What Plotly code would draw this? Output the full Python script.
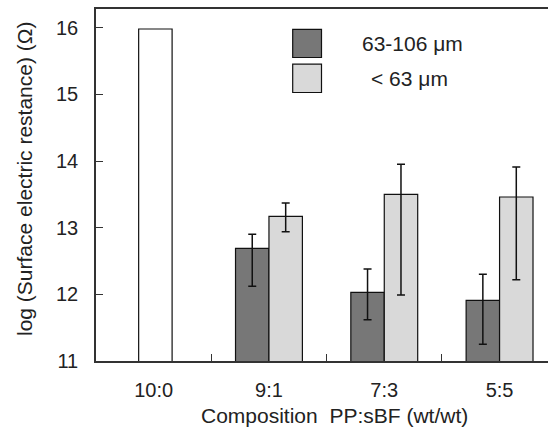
import plotly.graph_objects as go

# ---------------- data ----------------
categories = ["10:0", "9:1", "7:3", "5:5"]
series_names = ["63-106 μm", "< 63 μm"]

pure_pp_cat = ["10:0"]
pure_pp_val = [15.98]

sub_cats = ["9:1", "7:3", "5:5"]
coarse_val = [12.69, 12.03, 11.91]      # 63-106 um
coarse_err_plus = [0.21, 0.35, 0.39]
coarse_err_minus = [0.57, 0.41, 0.66]

fine_val = [13.17, 13.50, 13.46]        # < 63 um
fine_err_plus = [0.20, 0.45, 0.45]
fine_err_minus = [0.23, 1.51, 1.24]

y_ticks = [11, 12, 13, 14, 15, 16]

# ---------------- style ----------------
W, H = 548, 432
ML, MR, MT, MB = 96, 0, 9, 71
DARK = "#777777"
LIGHT = "#d9d9d9"
FONT = "Liberation Sans, Arial, sans-serif"
TXT = "#222222"
BW = 0.29

err_style = dict(type="data", symmetric=False, color="#111111", thickness=1.5, width=4)

fig = go.Figure()
fig.add_trace(go.Bar(
    x=pure_pp_cat, y=pure_pp_val, width=BW, offset=-0.13,
    marker=dict(color="white", line=dict(color="#111111", width=1.2)),
    showlegend=False,
))
fig.add_trace(go.Bar(
    x=sub_cats, y=coarse_val, width=BW, offset=-BW, name=series_names[0],
    marker=dict(color=DARK, line=dict(color="#111111", width=1.2)),
    error_y=dict(array=coarse_err_plus, arrayminus=coarse_err_minus, **err_style),
    showlegend=False,
))
fig.add_trace(go.Bar(
    x=sub_cats, y=fine_val, width=BW, offset=0, name=series_names[1],
    marker=dict(color=LIGHT, line=dict(color="#111111", width=1.2)),
    error_y=dict(array=fine_err_plus, arrayminus=fine_err_minus, **err_style),
    showlegend=False,
))

pw = W - ML - MR
ph = H - MT - MB
def px(x):
    return (x - ML) / pw
def py(y):
    return (H - MB - y) / ph

# custom legend (squares + labels)
shapes = []
annotations = []
leg_boxes = [(29.3, 57.5), (64.2, 92.5)]
leg_cols = [DARK, LIGHT]
leg_text_x = [360, 369]
for (y0, y1), col, name, tx in zip(leg_boxes, leg_cols, series_names, leg_text_x):
    shapes.append(dict(type="rect", xref="paper", yref="paper",
                       x0=px(292.7), x1=px(321.5), y0=py(y1), y1=py(y0),
                       fillcolor=col, line=dict(color="#111111", width=1.2)))
    annotations.append(dict(xref="paper", yref="paper", x=px(tx), y=py((y0 + y1) / 2),
                            xanchor="left", yanchor="middle", showarrow=False,
                            text=name, font=dict(size=21, color=TXT, family=FONT)))

# axis titles
annotations.append(dict(xref="paper", yref="paper", x=px(334), y=py(415),
                        xanchor="center", yanchor="middle", showarrow=False,
                        text="Composition  PP:sBF (wt/wt)",
                        font=dict(size=21, color=TXT, family=FONT)))
annotations.append(dict(xref="paper", yref="paper", x=px(24), y=py(179),
                        xanchor="center", yanchor="middle", showarrow=False, textangle=-90,
                        text="log (Surface electric restance) (Ω)",
                        font=dict(size=21, color=TXT, family=FONT)))

fig.update_layout(
    width=W, height=H,
    margin=dict(l=ML, r=MR, t=MT, b=MB),
    paper_bgcolor="white", plot_bgcolor="white",
    barmode="overlay",
    font=dict(family=FONT, size=19, color=TXT),
    shapes=shapes, annotations=annotations,
    showlegend=False,
)
fig.update_xaxes(
    type="category", categoryorder="array", categoryarray=categories,
    range=[-0.5, 3.42], showline=True, linecolor="#333333", linewidth=1.5,
    mirror=True, ticks="inside", ticklen=7, tickwidth=1.2, tickcolor="#333333",
    tickson="boundaries", showgrid=False, zeroline=False,
    ticklabelstandoff=10, tickfont=dict(size=20, color=TXT, family=FONT),
)
fig.update_yaxes(
    range=[11, 16.28], tickvals=y_ticks, showline=True, linecolor="#333333",
    linewidth=1.5, ticks="inside", ticklen=7, tickwidth=1.2, tickcolor="#333333",
    showgrid=False, zeroline=False, ticklabelstandoff=12,
    tickfont=dict(size=20, color=TXT, family=FONT),
)

fig.write_html(
    "out.html",
    config={"displayModeBar": False},
    post_script="document.body.style.margin='0';document.body.style.padding='0';",
)
